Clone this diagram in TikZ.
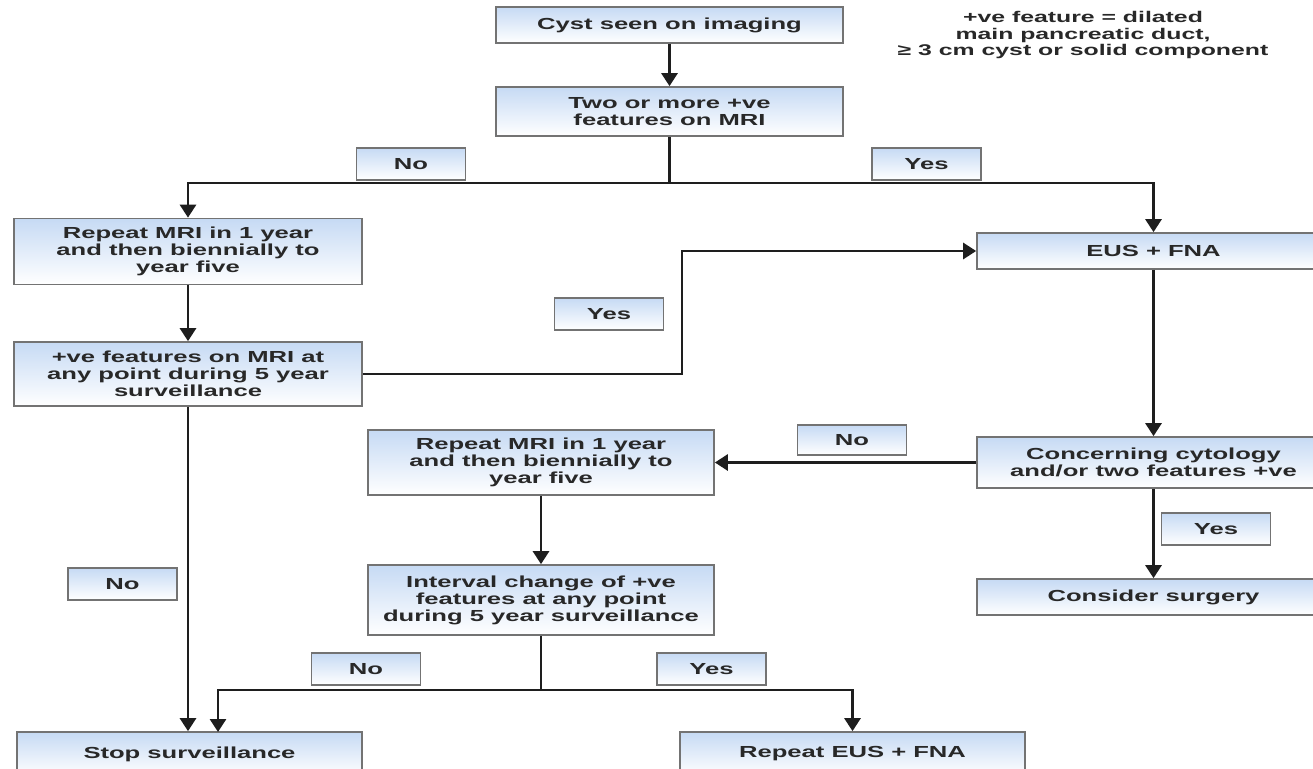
\documentclass[tikz,border=0pt]{standalone}
\usepackage{fontspec}
\newfontfamily\chartfont{Liberation Sans}[FakeStretch=1.6]
\usetikzlibrary{arrows.meta}

\definecolor{boxline}{RGB}{115,115,115}
\definecolor{boxtop}{RGB}{198,218,244}
\definecolor{inkc}{RGB}{30,30,30}
\definecolor{txt}{RGB}{40,40,40}

\tikzset{
  base/.style={draw=boxline, line width=1.7pt, top color=boxtop, bottom color=white,
    text=txt, font=\chartfont\bfseries\fontsize{16}{17}\selectfont,
    align=center, inner sep=0pt, anchor=center},
  flowbox/.style={base},
  tag/.style={base, minimum width=109pt, minimum height=32pt},
  arr/.style={draw=inkc, line width=2.8pt, -{Triangle[width=16pt,length=13pt]}},
  link/.style={draw=inkc, line width=2.8pt},
}

\begin{document}
\begin{tikzpicture}[x=1pt,y=-1pt]
\useasboundingbox (0,0) rectangle (1313,768);
\clip (0,0) rectangle (1313,768);
\fill[white] (0,0) rectangle (1313,768);

% main steps
\node[flowbox, minimum width=347pt, minimum height=36pt] (cyst) at (669.5,25) {Cyst seen on imaging};
\node[flowbox, minimum width=347pt, minimum height=49pt] (two) at (669.5,111.5) {Two or more +ve\\features on MRI};
\node[flowbox, minimum width=348pt, minimum height=66pt] (mriA) at (188,251.5) {Repeat MRI in 1 year\\and then biennially to\\year five};
\node[flowbox, minimum width=348pt, minimum height=64pt] (posA) at (188,374) {+ve features on MRI at\\any point during 5 year\\surveillance};
\node[flowbox, minimum width=353pt, minimum height=36pt] (eus) at (1153.5,251) {EUS + FNA};
\node[flowbox, minimum width=353pt, minimum height=51pt] (conc) at (1153.5,462.5) {Concerning cytology\\and/or two features +ve};
\node[flowbox, minimum width=346pt, minimum height=65pt] (mriB) at (541,462.5) {Repeat MRI in 1 year\\and then biennially to\\year five};
\node[flowbox, minimum width=346pt, minimum height=70pt] (intv) at (541,600) {Interval change of +ve\\features at any point\\during 5 year surveillance};
\node[flowbox, minimum width=353pt, minimum height=36pt] (surg) at (1153.5,597) {Consider surgery};
\node[flowbox, minimum width=345pt, minimum height=44pt] (stop) at (189.5,754) {Stop surveillance};
\node[flowbox, minimum width=345pt, minimum height=44pt] (rep) at (852.5,754) {Repeat EUS + FNA};

% note on what counts as a positive feature
\node[font=\chartfont\bfseries\fontsize{15.5}{16.5}\selectfont, text=txt, align=center] (note) at (1083,35)
  {+ve feature = dilated\\main pancreatic duct,\\≥ 3 cm cyst or solid component};

% branch tags
\node[tag] (noA) at (411,164) {No};
\node[tag] (yesA) at (926.5,164) {Yes};
\node[tag] (yesB) at (609,314) {Yes};
\node[tag, minimum height=30pt] (noB) at (852,440) {No};
\node[tag] (yesC) at (1216,529) {Yes};
\node[tag] (noC) at (122.5,584) {No};
\node[tag] (noD) at (366,669) {No};
\node[tag] (yesD) at (711.5,669) {Yes};

% junction points
\coordinate (splitA) at (669.5,183);
\coordinate (bendB) at (682,300);
\coordinate (splitB) at (541,690);
\coordinate (stopIn) at (218,732);

% connectors
\draw[arr] (cyst) -- (two);
\draw[link] (two) -- (splitA);
\draw[arr] (splitA) -| (mriA);
\draw[arr] (splitA) -| (eus);
\draw[arr] (mriA) -- (posA);
\draw[arr] (posA.east) -- (posA.east -| bendB) |- (eus.west);
\draw[arr] (posA) -- (posA |- stop.north);
\draw[arr] (eus) -- (conc);
\draw[arr] (conc) -- (mriB);
\draw[arr] (conc) -- (surg);
\draw[arr] (mriB) -- (intv);
\draw[link] (intv) -- (splitB);
\draw[arr] (splitB) -| (stopIn);
\draw[arr] (splitB) -| (rep);
\end{tikzpicture}
\end{document}
